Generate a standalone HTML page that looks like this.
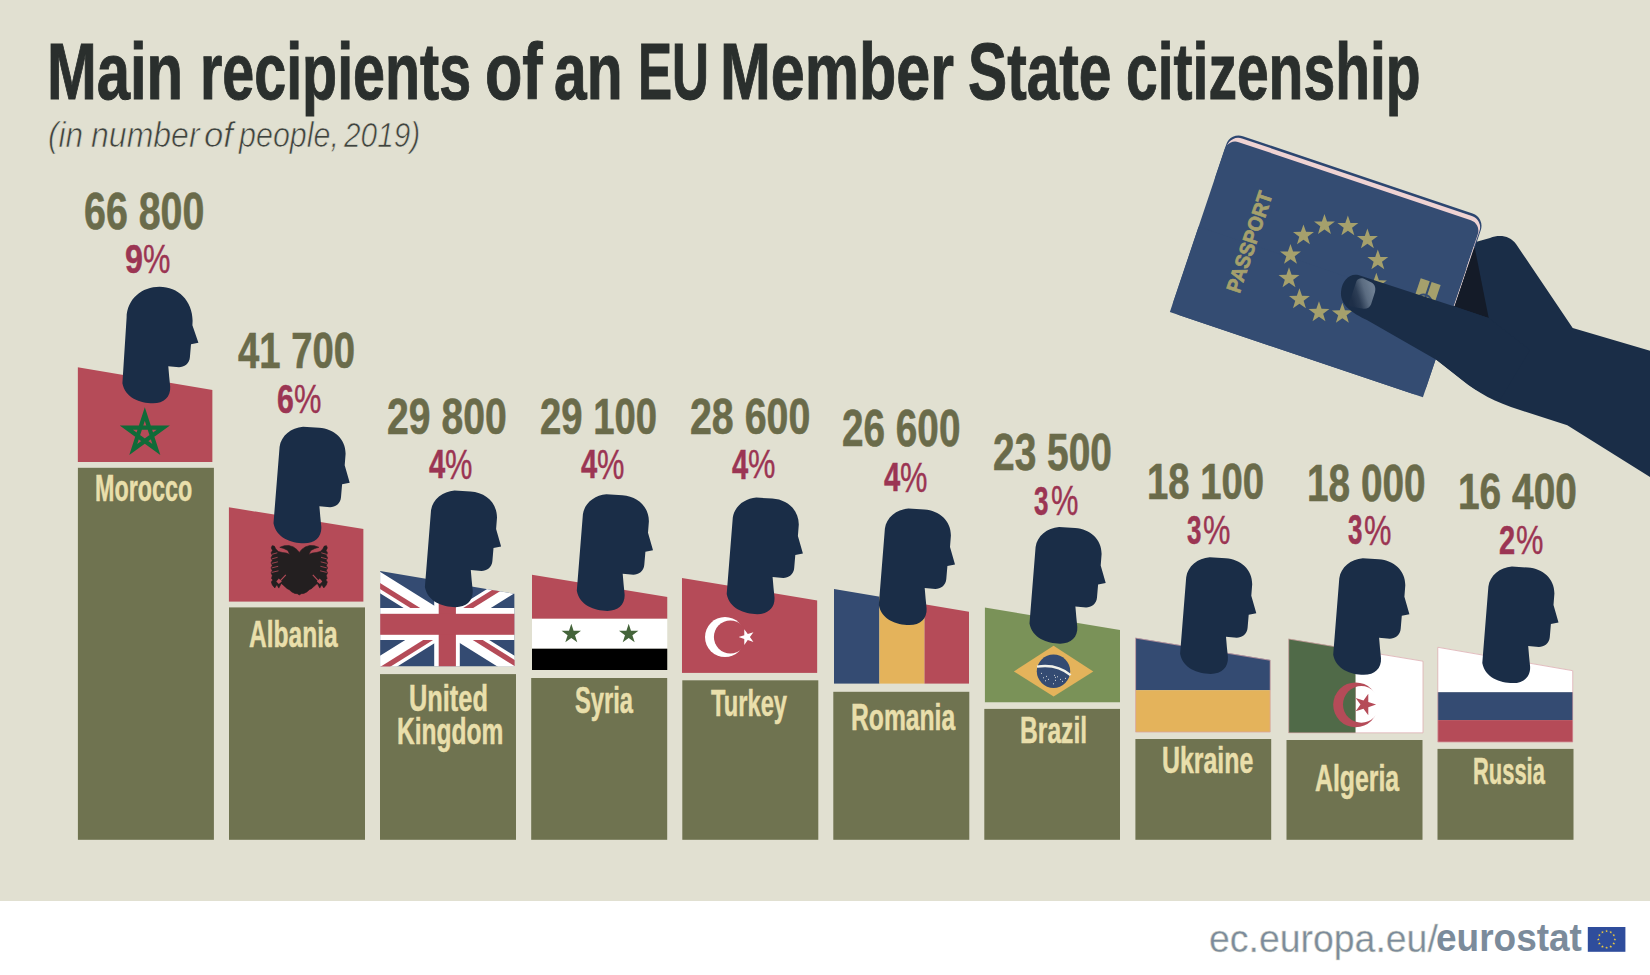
<!DOCTYPE html>
<html><head><meta charset="utf-8"><title>Main recipients of an EU Member State citizenship</title>
<style>
html,body{margin:0;padding:0;width:1650px;height:975px;overflow:hidden;background:#fff}
#root{position:relative;width:1650px;height:975px;overflow:hidden}
.t{position:absolute;white-space:pre;font-family:"Liberation Sans",sans-serif;transform-origin:0 0}
</style></head><body><div id="root">
<svg width="1650" height="975" viewBox="0 0 1650 975" style="position:absolute;left:0;top:0"><rect width="1650" height="901" fill="#e1e0d1"/><rect y="901" width="1650" height="74" fill="#fff"/><rect x="77.9" y="467.8" width="136.0" height="371.99999999999994" fill="#6f7350"/><clipPath id="fc0"><polygon points="77.6,367.2 212.6,390.0 212.6,462.0 77.6,462.0"/></clipPath><g clip-path="url(#fc0)"><rect x="77.6" y="366.2" width="135.0" height="95.80000000000001" fill="#b54b58"/><path d="M144.80 414.00 L156.32 449.46 L126.16 427.54 L163.44 427.54 L133.28 449.46 Z" fill="none" stroke="#0f6b38" stroke-width="4.2" stroke-linejoin="miter" stroke-miterlimit="10"/></g><path transform="translate(122.00 286.70)" d="M4.6 31 C5 12 20 0 37.6 0 C56 0 70.5 14 70.6 34 L70.4 38.5 L76.4 56 L69 57.5 L67.9 70.5 C67.5 77 62 80.5 57 80.5 L46.3 79.5 L47.2 90 L48.2 100 C48.8 110 42 116.6 31 116.6 C18 116.6 3 111 0.4 96.5 Z" fill="#1a2d47"/><rect x="229.0" y="607.4" width="136.0" height="232.39999999999998" fill="#6f7350"/><clipPath id="fc1"><polygon points="228.7,507.2 363.6,529.1 363.6,601.8 228.7,601.8"/></clipPath><g clip-path="url(#fc1)"><rect x="228.7" y="506.2" width="134.90000000000003" height="95.59999999999997" fill="#b54b58"/><path d="M299.30 552.40 L296.80 549.40 L293.30 546.90 L288.80 545.50 L284.30 545.70 L279.80 547.30 L283.80 548.50 L287.80 550.40 L289.80 554.40 L286.30 553.10 L282.30 552.50 L278.30 551.50 L275.80 548.90 L274.30 546.10 L272.10 545.70 L271.30 547.90 L272.50 550.40 L271.10 552.90 L272.30 555.40 L271.00 557.90 L272.30 560.40 L271.00 562.90 L272.30 565.40 L271.00 567.90 L272.30 570.40 L271.10 572.90 L272.30 575.40 L271.50 578.40 L272.80 579.90 L271.30 581.90 L272.30 584.90 L274.80 587.90 L276.80 584.70 L278.80 588.10 L281.30 583.40 L284.80 586.40 L286.80 588.40 L289.30 589.70 L291.80 591.90 L294.80 593.40 L297.30 593.70 L299.30 594.90 L299.30 594.90 L301.30 593.70 L303.80 593.40 L306.80 591.90 L309.30 589.70 L311.80 588.40 L313.80 586.40 L317.30 583.40 L319.80 588.10 L321.80 584.70 L323.80 587.90 L326.30 584.90 L327.30 581.90 L325.80 579.90 L327.10 578.40 L326.30 575.40 L327.50 572.90 L326.30 570.40 L327.60 567.90 L326.30 565.40 L327.60 562.90 L326.30 560.40 L327.60 557.90 L326.30 555.40 L327.50 552.90 L326.10 550.40 L327.30 547.90 L326.50 545.70 L324.30 546.10 L322.80 548.90 L320.30 551.50 L316.30 552.50 L312.30 553.10 L308.80 554.40 L310.80 550.40 L314.80 548.50 L318.80 547.30 L314.30 545.70 L309.80 545.50 L305.30 546.90 L301.80 549.40 L299.30 552.40 Z" fill="#231f20" stroke="#231f20" stroke-width="0.6" stroke-linejoin="round"/><path d="M271.80 554.40 L277.30 552.80" stroke="#b54b58" stroke-width="0.8"/><path d="M271.80 558.90 L277.60 557.30" stroke="#b54b58" stroke-width="0.8"/><path d="M271.80 563.40 L277.90 561.80" stroke="#b54b58" stroke-width="0.8"/><path d="M271.80 567.90 L278.20 566.30" stroke="#b54b58" stroke-width="0.8"/><path d="M271.80 572.40 L278.50 570.80" stroke="#b54b58" stroke-width="0.8"/><path d="M285.80 574.90 L278.80 582.40" stroke="#b54b58" stroke-width="1.1"/><polygon points="281.80,581.40 278.80,578.40 276.30,581.40 278.80,583.90" fill="#b54b58"/><path d="M326.80 554.40 L321.30 552.80" stroke="#b54b58" stroke-width="0.8"/><path d="M326.80 558.90 L321.00 557.30" stroke="#b54b58" stroke-width="0.8"/><path d="M326.80 563.40 L320.70 561.80" stroke="#b54b58" stroke-width="0.8"/><path d="M326.80 567.90 L320.40 566.30" stroke="#b54b58" stroke-width="0.8"/><path d="M326.80 572.40 L320.10 570.80" stroke="#b54b58" stroke-width="0.8"/><path d="M312.80 574.90 L319.80 582.40" stroke="#b54b58" stroke-width="1.1"/><polygon points="316.80,581.40 319.80,578.40 322.30,581.40 319.80,583.90" fill="#b54b58"/></g><path transform="translate(273.10 426.70)" d="M6.5 20 C8 9 18 1 30 0 L46 1 C61 2 72.4 12 72.5 27 L71.6 38.5 L76.6 56 L69 57.5 L67.9 70.5 C67.5 77 62 80.5 57 80.5 L46.3 79.5 L47.2 90 L48.2 100 C48.8 110 42 116.6 31 116.6 C18 116.6 3 111 0.4 96.5 Z" fill="#1a2d47"/><rect x="380.0" y="674.1" width="136.0" height="165.69999999999993" fill="#6f7350"/><clipPath id="fc2"><polygon points="380.1,571.1 514.6,593.8 514.6,666.5 380.1,666.5"/></clipPath><g clip-path="url(#fc2)"><rect x="380.1" y="570.1" width="134.5" height="96.39999999999998" fill="#344b72"/><path d="M339.75 557.3 L554.95 691.7 M339.75 691.7 L554.95 557.3" stroke="#fff" stroke-width="18.2"/><path d="M338.16 559.84 L445.76 627.04" stroke="#b54b58" stroke-width="5.2"/><path d="M448.94 621.96 L556.54 689.16" stroke="#b54b58" stroke-width="5.2"/><path d="M445.76 621.96 L553.36 554.76" stroke="#b54b58" stroke-width="5.2"/><path d="M341.34 694.24 L448.94 627.04" stroke="#b54b58" stroke-width="5.2"/><rect x="434.2" y="569.1" width="25.6" height="97.39999999999998" fill="#fff"/><rect x="380.1" y="608.0" width="134.5" height="32" fill="#fff"/><rect x="438.7" y="569.1" width="17.2" height="97.39999999999998" fill="#b54b58"/><rect x="380.1" y="613.8" width="134.5" height="21.0" fill="#b54b58"/></g><path transform="translate(424.50 490.60)" d="M6.5 20 C8 9 18 1 30 0 L46 1 C61 2 72.4 12 72.5 27 L71.6 38.5 L76.6 56 L69 57.5 L67.9 70.5 C67.5 77 62 80.5 57 80.5 L46.3 79.5 L47.2 90 L48.2 100 C48.8 110 42 116.6 31 116.6 C18 116.6 3 111 0.4 96.5 Z" fill="#1a2d47"/><rect x="531.2" y="678.0" width="136.0" height="161.79999999999995" fill="#6f7350"/><clipPath id="fc3"><polygon points="532.0,574.8 667.5,597.0 667.5,670.1 532.0,670.1"/></clipPath><g clip-path="url(#fc3)"><rect x="532.0" y="573.8" width="135.5" height="45.0" fill="#b54b58"/><rect x="532.0" y="618.8" width="135.5" height="29.9" fill="#fff"/><rect x="532.0" y="648.7" width="135.5" height="21.399999999999977" fill="#000"/><polygon points="571.30,623.80 573.59,630.85 581.00,630.85 575.01,635.20 577.30,642.25 571.30,637.90 565.30,642.25 567.59,635.20 561.60,630.85 569.01,630.85" fill="#44643a"/><polygon points="628.70,623.80 630.99,630.85 638.40,630.85 632.41,635.20 634.70,642.25 628.70,637.90 622.70,642.25 624.99,635.20 619.00,630.85 626.41,630.85" fill="#44643a"/></g><path transform="translate(576.40 494.30)" d="M6.5 20 C8 9 18 1 30 0 L46 1 C61 2 72.4 12 72.5 27 L71.6 38.5 L76.6 56 L69 57.5 L67.9 70.5 C67.5 77 62 80.5 57 80.5 L46.3 79.5 L47.2 90 L48.2 100 C48.8 110 42 116.6 31 116.6 C18 116.6 3 111 0.4 96.5 Z" fill="#1a2d47"/><rect x="682.3" y="680.3" width="136.0" height="159.5" fill="#6f7350"/><clipPath id="fc4"><polygon points="681.9,578.1 817.4,600.4 817.4,672.9 681.9,672.9"/></clipPath><g clip-path="url(#fc4)"><rect x="681.9" y="577.1" width="135.5" height="95.79999999999995" fill="#b54b58"/><circle cx="725" cy="637.1" r="20" fill="#fff"/><circle cx="730.4" cy="637.0" r="16.5" fill="#b54b58"/><polygon points="738.60,637.10 744.27,635.26 744.27,629.30 747.77,634.12 753.43,632.28 749.93,637.10 753.43,641.92 747.77,640.08 744.27,644.90 744.27,638.94" fill="#fff"/></g><path transform="translate(726.30 497.60)" d="M6.5 20 C8 9 18 1 30 0 L46 1 C61 2 72.4 12 72.5 27 L71.6 38.5 L76.6 56 L69 57.5 L67.9 70.5 C67.5 77 62 80.5 57 80.5 L46.3 79.5 L47.2 90 L48.2 100 C48.8 110 42 116.6 31 116.6 C18 116.6 3 111 0.4 96.5 Z" fill="#1a2d47"/><rect x="833.3" y="691.8" width="136.0" height="148.0" fill="#6f7350"/><clipPath id="fc5"><polygon points="834.0,589.0 969.0,611.8 969.0,683.8 834.0,683.8"/></clipPath><g clip-path="url(#fc5)"><rect x="834.0" y="588.0" width="45.4" height="95.79999999999995" fill="#344b72"/><rect x="879.4" y="588.0" width="45.1" height="95.79999999999995" fill="#e4b35b"/><rect x="924.5" y="588.0" width="44.5" height="95.79999999999995" fill="#b54b58"/></g><path transform="translate(878.40 508.50)" d="M6.5 20 C8 9 18 1 30 0 L46 1 C61 2 72.4 12 72.5 27 L71.6 38.5 L76.6 56 L69 57.5 L67.9 70.5 C67.5 77 62 80.5 57 80.5 L46.3 79.5 L47.2 90 L48.2 100 C48.8 110 42 116.6 31 116.6 C18 116.6 3 111 0.4 96.5 Z" fill="#1a2d47"/><rect x="984.3" y="708.9" width="135.70000000000005" height="130.89999999999998" fill="#6f7350"/><clipPath id="fc6"><polygon points="984.7,607.6 1120.0,630.0 1120.0,702.5 984.7,702.5"/></clipPath><g clip-path="url(#fc6)"><rect x="984.7" y="606.6" width="135.29999999999995" height="95.89999999999998" fill="#7a9258"/><polygon points="1013.9,671.4 1053.6,645.8 1093.3,671.4 1053.6,696.6" fill="#e4b35b"/><circle cx="1053.5" cy="671.2" r="16.7" fill="#344b72"/><path d="M1037.0 666.6 Q1057 663.5 1070.6 675.2" stroke="#f2f2ea" stroke-width="2.4" fill="none"/><circle cx="1041.5" cy="673.2" r="0.55" fill="#f2f2ea"/><circle cx="1046.5" cy="676.2" r="0.55" fill="#f2f2ea"/><circle cx="1043.5" cy="677.7" r="0.55" fill="#f2f2ea"/><circle cx="1048.5" cy="679.2" r="0.55" fill="#f2f2ea"/><circle cx="1054.5" cy="675.2" r="0.55" fill="#f2f2ea"/><circle cx="1055.5" cy="677.2" r="0.55" fill="#f2f2ea"/><circle cx="1057.5" cy="676.7" r="0.55" fill="#f2f2ea"/><circle cx="1055.5" cy="680.2" r="0.55" fill="#f2f2ea"/><circle cx="1060.5" cy="679.2" r="0.55" fill="#f2f2ea"/><circle cx="1062.5" cy="681.2" r="0.55" fill="#f2f2ea"/><circle cx="1065.5" cy="678.2" r="0.55" fill="#f2f2ea"/><circle cx="1053.5" cy="683.7" r="0.55" fill="#f2f2ea"/><circle cx="1045.5" cy="680.7" r="0.55" fill="#f2f2ea"/></g><path transform="translate(1029.10 527.10)" d="M6.5 20 C8 9 18 1 30 0 L46 1 C61 2 72.4 12 72.5 27 L71.6 38.5 L76.6 56 L69 57.5 L67.9 70.5 C67.5 77 62 80.5 57 80.5 L46.3 79.5 L47.2 90 L48.2 100 C48.8 110 42 116.6 31 116.6 C18 116.6 3 111 0.4 96.5 Z" fill="#1a2d47"/><rect x="1135.4" y="739.0" width="135.79999999999995" height="100.79999999999995" fill="#6f7350"/><clipPath id="fc7"><polygon points="1135.3,637.8 1270.5,660.0 1270.5,732.3 1135.3,732.3"/></clipPath><g clip-path="url(#fc7)"><rect x="1135.3" y="636.8" width="135.20000000000005" height="53.40000000000009" fill="#344b72"/><rect x="1135.3" y="690.2" width="135.20000000000005" height="42.09999999999991" fill="#e4b35b"/></g><polygon points="1135.6,638.0999999999999 1270.2,660.3 1270.2,732.0 1135.6,732.0" fill="none" stroke="#d9a3a8" stroke-width="0.7"/><path transform="translate(1179.70 557.30)" d="M6.5 20 C8 9 18 1 30 0 L46 1 C61 2 72.4 12 72.5 27 L71.6 38.5 L76.6 56 L69 57.5 L67.9 70.5 C67.5 77 62 80.5 57 80.5 L46.3 79.5 L47.2 90 L48.2 100 C48.8 110 42 116.6 31 116.6 C18 116.6 3 111 0.4 96.5 Z" fill="#1a2d47"/><rect x="1286.5" y="740.0" width="136.0" height="99.79999999999995" fill="#6f7350"/><clipPath id="fc8"><polygon points="1288.4,638.7 1423.3,660.9 1423.3,733.1 1288.4,733.1"/></clipPath><g clip-path="url(#fc8)"><rect x="1288.4" y="637.7" width="67.29999999999995" height="95.39999999999998" fill="#506a48"/><rect x="1355.7" y="637.7" width="67.59999999999991" height="95.39999999999998" fill="#fff"/><circle cx="1355.6" cy="704.8" r="22.4" fill="#b54b58"/><clipPath id="dzc"><rect x="1288.4" y="600" width="67.29999999999995" height="200"/></clipPath><circle cx="1361.3" cy="704.4" r="18.3" fill="#506a48" clip-path="url(#dzc)"/><clipPath id="dzc2"><rect x="1355.7" y="600" width="100" height="200"/></clipPath><circle cx="1361.3" cy="704.4" r="18.3" fill="#fff" clip-path="url(#dzc2)"/><polygon points="1376.10,704.60 1368.29,707.14 1368.29,715.35 1363.47,708.71 1355.66,711.24 1360.48,704.60 1355.66,697.96 1363.47,700.49 1368.29,693.85 1368.29,702.06" fill="#b54b58"/></g><polygon points="1288.7,639.0 1423.0,661.1999999999999 1423.0,732.8000000000001 1288.7,732.8000000000001" fill="none" stroke="#d9a3a8" stroke-width="0.7"/><path transform="translate(1332.80 558.20)" d="M6.5 20 C8 9 18 1 30 0 L46 1 C61 2 72.4 12 72.5 27 L71.6 38.5 L76.6 56 L69 57.5 L67.9 70.5 C67.5 77 62 80.5 57 80.5 L46.3 79.5 L47.2 90 L48.2 100 C48.8 110 42 116.6 31 116.6 C18 116.6 3 111 0.4 96.5 Z" fill="#1a2d47"/><rect x="1437.5" y="748.9" width="136.0" height="90.89999999999998" fill="#6f7350"/><clipPath id="fc9"><polygon points="1437.5,647.0 1573.0,670.4 1573.0,742.3 1437.5,742.3"/></clipPath><g clip-path="url(#fc9)"><rect x="1437.5" y="646.0" width="135.5" height="46.200000000000045" fill="#fff"/><rect x="1437.5" y="692.2" width="135.5" height="27.9" fill="#344b72"/><rect x="1437.5" y="720.1" width="135.5" height="22.199999999999932" fill="#b54b58"/></g><polygon points="1437.8,647.3 1572.7,670.6999999999999 1572.7,742.0 1437.8,742.0" fill="none" stroke="#d9a3a8" stroke-width="0.7"/><path transform="translate(1481.90 566.50)" d="M6.5 20 C8 9 18 1 30 0 L46 1 C61 2 72.4 12 72.5 27 L71.6 38.5 L76.6 56 L69 57.5 L67.9 70.5 C67.5 77 62 80.5 57 80.5 L46.3 79.5 L47.2 90 L48.2 100 C48.8 110 42 116.6 31 116.6 C18 116.6 3 111 0.4 96.5 Z" fill="#1a2d47"/><path d="M1440 252 L1490 238 C1500 234 1510 236 1516 244 L1572.7 328 L1650 350.7 L1650 477 L1567.3 425.3 L1520 410 C1495 402 1478 393 1462 380 L1436.7 360 L1400 330 Z" fill="#1a2d47"/><g transform="translate(1325.1 269.35) rotate(18.6)"><rect x="-133.5" y="-100" width="268.5" height="60" rx="13" fill="#2c4670"/><rect x="-132.5" y="-97.5" width="266.6" height="60" rx="12" fill="#efd3d3"/><rect x="-133.5" y="-93" width="267" height="183" rx="11" fill="#344c72"/><rect x="-133.5" y="0" width="267" height="90" fill="#344c72"/><text x="0" y="0" transform="translate(-80.9 -1.9) rotate(-90)" text-anchor="middle" dominant-baseline="central" font-family="Liberation Sans" font-weight="700" font-size="20.5" fill="#a5a06c" stroke="#a5a06c" stroke-width="0.8" textLength="105" lengthAdjust="spacingAndGlyphs">PASSPORT</text><g transform="translate(104 -12)"><rect x="-10.5" y="-10" width="9.5" height="24" fill="#a5a06c"/><rect x="1" y="-10" width="9.5" height="24" fill="#a5a06c"/><circle cx="0" cy="12" r="8" fill="none" stroke="#344c72" stroke-width="2"/></g></g><polygon points="1347.87,215.47 1350.45,222.91 1358.33,223.07 1352.05,227.83 1354.33,235.37 1347.87,230.87 1341.40,235.37 1343.68,227.83 1337.40,223.07 1345.28,222.91" fill="#a5a06c"/><polygon points="1367.40,228.45 1369.98,235.89 1377.86,236.05 1371.58,240.81 1373.86,248.35 1367.40,243.85 1360.93,248.35 1363.21,240.81 1356.94,236.05 1364.81,235.89" fill="#a5a06c"/><polygon points="1377.82,249.45 1380.41,256.89 1388.28,257.05 1382.01,261.81 1384.29,269.35 1377.82,264.85 1371.36,269.35 1373.64,261.81 1367.36,257.05 1375.24,256.89" fill="#a5a06c"/><polygon points="1376.35,272.85 1378.94,280.29 1386.81,280.46 1380.54,285.21 1382.82,292.75 1376.35,288.25 1369.88,292.75 1372.17,285.21 1365.89,280.46 1373.76,280.29" fill="#a5a06c"/><polygon points="1363.37,292.39 1365.96,299.83 1373.84,299.99 1367.56,304.75 1369.84,312.28 1363.37,307.79 1356.91,312.28 1359.19,304.75 1352.91,299.99 1360.79,299.83" fill="#a5a06c"/><polygon points="1342.37,302.81 1344.96,310.25 1352.83,310.41 1346.56,315.17 1348.84,322.71 1342.37,318.21 1335.90,322.71 1338.19,315.17 1331.91,310.41 1339.78,310.25" fill="#a5a06c"/><polygon points="1318.97,301.34 1321.55,308.78 1329.43,308.94 1323.15,313.70 1325.43,321.24 1318.97,316.74 1312.50,321.24 1314.78,313.70 1308.51,308.94 1316.38,308.78" fill="#a5a06c"/><polygon points="1299.44,288.36 1302.02,295.80 1309.90,295.96 1303.62,300.72 1305.90,308.26 1299.44,303.76 1292.97,308.26 1295.25,300.72 1288.98,295.96 1296.85,295.80" fill="#a5a06c"/><polygon points="1289.01,267.36 1291.60,274.80 1299.47,274.96 1293.20,279.72 1295.48,287.26 1289.01,282.76 1282.54,287.26 1284.83,279.72 1278.55,274.96 1286.42,274.80" fill="#a5a06c"/><polygon points="1290.48,243.96 1293.07,251.40 1300.94,251.56 1294.67,256.32 1296.95,263.86 1290.48,259.36 1284.02,263.86 1286.30,256.32 1280.02,251.56 1287.90,251.40" fill="#a5a06c"/><polygon points="1303.46,224.43 1306.05,231.87 1313.92,232.03 1307.64,236.79 1309.92,244.32 1303.46,239.83 1296.99,244.32 1299.27,236.79 1293.00,232.03 1300.87,231.87" fill="#a5a06c"/><polygon points="1324.46,214.00 1327.05,221.44 1334.92,221.60 1328.65,226.36 1330.93,233.90 1324.46,229.40 1318.00,233.90 1320.28,226.36 1314.00,221.60 1321.88,221.44" fill="#a5a06c"/><path d="M1474.2 247 L1454.2 306" stroke="#e8d6d6" stroke-width="1"/><polygon points="1474.5,246.5 1488.7,318.1 1454.5,306.5" fill="#141b28"/><path d="M1358.3 275.1 L1455.3 306.7 L1488.7 318.1 L1530 350 L1500 400 C1480 394 1470 386 1456 375 L1436.7 360 L1366.9 320 C1352 313 1340 305 1341 292 C1342 280 1350 273 1358.3 275.1 Z" fill="#1a2d47"/><linearGradient id="nailg" x1="1351" y1="297" x2="1373" y2="290" gradientUnits="userSpaceOnUse"><stop offset="0" stop-color="#1e2f48"/><stop offset="0.3" stop-color="#2c3d55"/><stop offset="0.65" stop-color="#5b6c81"/><stop offset="1" stop-color="#6d7e92"/></linearGradient><path d="M1348.5 305 L1356.5 281 C1358 278.5 1361 277.8 1364 278.8 L1371.5 282.5 C1375 284.5 1376 288 1375 292 L1371 304.5 C1369.5 308 1366 309.5 1362 308.5 L1351 306.5 Z" fill="url(#nailg)"/><rect x="1587.8" y="927" width="37.6" height="24.8" fill="#2f4d9c"/><polygon points="1606.60,929.60 1606.94,930.64 1608.03,930.64 1607.14,931.28 1607.48,932.31 1606.60,931.67 1605.72,932.31 1606.06,931.28 1605.17,930.64 1606.26,930.64" fill="#f5cf3a"/><polygon points="1610.75,930.71 1611.09,931.75 1612.18,931.75 1611.29,932.39 1611.63,933.43 1610.75,932.78 1609.87,933.43 1610.21,932.39 1609.32,931.75 1610.41,931.75" fill="#f5cf3a"/><polygon points="1613.79,933.75 1614.12,934.79 1615.21,934.79 1614.33,935.43 1614.67,936.46 1613.79,935.82 1612.91,936.46 1613.24,935.43 1612.36,934.79 1613.45,934.79" fill="#f5cf3a"/><polygon points="1614.90,937.90 1615.24,938.94 1616.33,938.94 1615.44,939.58 1615.78,940.61 1614.90,939.97 1614.02,940.61 1614.36,939.58 1613.47,938.94 1614.56,938.94" fill="#f5cf3a"/><polygon points="1613.79,942.05 1614.12,943.09 1615.21,943.09 1614.33,943.73 1614.67,944.76 1613.79,944.12 1612.91,944.76 1613.24,943.73 1612.36,943.09 1613.45,943.09" fill="#f5cf3a"/><polygon points="1610.75,945.09 1611.09,946.12 1612.18,946.12 1611.29,946.77 1611.63,947.80 1610.75,947.16 1609.87,947.80 1610.21,946.77 1609.32,946.12 1610.41,946.12" fill="#f5cf3a"/><polygon points="1606.60,946.20 1606.94,947.24 1608.03,947.24 1607.14,947.88 1607.48,948.91 1606.60,948.27 1605.72,948.91 1606.06,947.88 1605.17,947.24 1606.26,947.24" fill="#f5cf3a"/><polygon points="1602.45,945.09 1602.79,946.12 1603.88,946.12 1602.99,946.77 1603.33,947.80 1602.45,947.16 1601.57,947.80 1601.91,946.77 1601.02,946.12 1602.11,946.12" fill="#f5cf3a"/><polygon points="1599.41,942.05 1599.75,943.09 1600.84,943.09 1599.96,943.73 1600.29,944.76 1599.41,944.12 1598.53,944.76 1598.87,943.73 1597.99,943.09 1599.08,943.09" fill="#f5cf3a"/><polygon points="1598.30,937.90 1598.64,938.94 1599.73,938.94 1598.84,939.58 1599.18,940.61 1598.30,939.97 1597.42,940.61 1597.76,939.58 1596.87,938.94 1597.96,938.94" fill="#f5cf3a"/><polygon points="1599.41,933.75 1599.75,934.79 1600.84,934.79 1599.96,935.43 1600.29,936.46 1599.41,935.82 1598.53,936.46 1598.87,935.43 1597.99,934.79 1599.08,934.79" fill="#f5cf3a"/><polygon points="1602.45,930.71 1602.79,931.75 1603.88,931.75 1602.99,932.39 1603.33,933.43 1602.45,932.78 1601.57,933.43 1601.91,932.39 1601.02,931.75 1602.11,931.75" fill="#f5cf3a"/></svg>
<div class="t" style="left:47.19px;top:30.93px;font-size:80.43px;line-height:80.43px;font-weight:700;color:#2a2f2d;-webkit-text-stroke:1.0px #2a2f2d;transform:scaleX(0.7428)">Main</div><div class="t" style="left:199.64px;top:30.93px;font-size:80.43px;line-height:80.43px;font-weight:700;color:#2a2f2d;-webkit-text-stroke:1.0px #2a2f2d;transform:scaleX(0.7135)">recipients</div><div class="t" style="left:484.83px;top:30.93px;font-size:80.43px;line-height:80.43px;font-weight:700;color:#2a2f2d;-webkit-text-stroke:1.0px #2a2f2d;transform:scaleX(0.7602)">of</div><div class="t" style="left:554.10px;top:30.93px;font-size:80.43px;line-height:80.43px;font-weight:700;color:#2a2f2d;-webkit-text-stroke:1.0px #2a2f2d;transform:scaleX(0.7304)">an</div><div class="t" style="left:637.64px;top:30.93px;font-size:80.43px;line-height:80.43px;font-weight:700;color:#2a2f2d;-webkit-text-stroke:1.0px #2a2f2d;transform:scaleX(0.6360)">EU</div><div class="t" style="left:720.31px;top:30.93px;font-size:80.43px;line-height:80.43px;font-weight:700;color:#2a2f2d;-webkit-text-stroke:1.0px #2a2f2d;transform:scaleX(0.7587)">Member</div><div class="t" style="left:967.70px;top:30.93px;font-size:80.43px;line-height:80.43px;font-weight:700;color:#2a2f2d;-webkit-text-stroke:1.0px #2a2f2d;transform:scaleX(0.7296)">State</div><div class="t" style="left:1126.27px;top:30.93px;font-size:80.43px;line-height:80.43px;font-weight:700;color:#2a2f2d;-webkit-text-stroke:1.0px #2a2f2d;transform:scaleX(0.7090)">citizenship</div><div class="t" style="left:48.31px;top:117.78px;font-size:35.62px;line-height:35.62px;font-weight:400;font-style:italic;color:#3f4340;-webkit-text-stroke:0.7px #e1e0d1;transform:scaleX(0.8866)">(in</div><div class="t" style="left:90.64px;top:117.78px;font-size:35.62px;line-height:35.62px;font-weight:400;font-style:italic;color:#3f4340;-webkit-text-stroke:0.7px #e1e0d1;transform:scaleX(0.8995)">number</div><div class="t" style="left:204.21px;top:117.78px;font-size:35.62px;line-height:35.62px;font-weight:400;font-style:italic;color:#3f4340;-webkit-text-stroke:0.7px #e1e0d1;transform:scaleX(0.9770)">of</div><div class="t" style="left:239.21px;top:117.78px;font-size:35.62px;line-height:35.62px;font-weight:400;font-style:italic;color:#3f4340;-webkit-text-stroke:0.7px #e1e0d1;transform:scaleX(0.8555)">people,</div><div class="t" style="left:343.81px;top:117.78px;font-size:35.62px;line-height:35.62px;font-weight:400;font-style:italic;color:#3f4340;-webkit-text-stroke:0.7px #e1e0d1;transform:scaleX(0.8365)">2019)</div><div class="t" style="left:84.19px;top:186.45px;font-size:51.61px;line-height:51.61px;font-weight:700;color:#6a6b4a;-webkit-text-stroke:0.6px #6a6b4a;transform:scaleX(0.7625)">66 800</div><div class="t" style="left:237.50px;top:325.59px;font-size:50.68px;line-height:50.68px;font-weight:700;color:#6a6b4a;-webkit-text-stroke:0.6px #6a6b4a;transform:scaleX(0.7549)">41 700</div><div class="t" style="left:387.28px;top:391.59px;font-size:50.68px;line-height:50.68px;font-weight:700;color:#6a6b4a;-webkit-text-stroke:0.6px #6a6b4a;transform:scaleX(0.7725)">29 800</div><div class="t" style="left:540.30px;top:391.59px;font-size:50.68px;line-height:50.68px;font-weight:700;color:#6a6b4a;-webkit-text-stroke:0.6px #6a6b4a;transform:scaleX(0.7545)">29 100</div><div class="t" style="left:690.27px;top:391.59px;font-size:50.68px;line-height:50.68px;font-weight:700;color:#6a6b4a;-webkit-text-stroke:0.6px #6a6b4a;transform:scaleX(0.7759)">28 600</div><div class="t" style="left:842.28px;top:403.49px;font-size:51.34px;line-height:51.34px;font-weight:700;color:#6a6b4a;-webkit-text-stroke:0.6px #6a6b4a;transform:scaleX(0.7543)">26 600</div><div class="t" style="left:993.28px;top:427.49px;font-size:51.34px;line-height:51.34px;font-weight:700;color:#6a6b4a;-webkit-text-stroke:0.6px #6a6b4a;transform:scaleX(0.7578)">23 500</div><div class="t" style="left:1146.93px;top:456.59px;font-size:50.68px;line-height:50.68px;font-weight:700;color:#6a6b4a;-webkit-text-stroke:0.6px #6a6b4a;transform:scaleX(0.7555)">18 100</div><div class="t" style="left:1306.90px;top:457.49px;font-size:51.99px;line-height:51.99px;font-weight:700;color:#6a6b4a;-webkit-text-stroke:0.6px #6a6b4a;transform:scaleX(0.7461)">18 000</div><div class="t" style="left:1458.38px;top:466.59px;font-size:50.68px;line-height:50.68px;font-weight:700;color:#6a6b4a;-webkit-text-stroke:0.6px #6a6b4a;transform:scaleX(0.7670)">16 400</div><div class="t" style="left:124.81px;top:239.16px;font-size:40.59px;line-height:40.59px;font-weight:700;color:#9b3553;-webkit-text-stroke:0.5px #9b3553;transform:scaleX(0.7951)">9</div><div class="t" style="left:142.91px;top:238.59px;font-size:41.31px;line-height:41.31px;font-weight:400;color:#9b3553;-webkit-text-stroke:0.4px #9b3553;transform:scaleX(0.7470)">%</div><div class="t" style="left:276.68px;top:379.16px;font-size:40.59px;line-height:40.59px;font-weight:700;color:#9b3553;-webkit-text-stroke:0.5px #9b3553;transform:scaleX(0.7451)">6</div><div class="t" style="left:293.91px;top:378.59px;font-size:41.31px;line-height:41.31px;font-weight:400;color:#9b3553;-webkit-text-stroke:0.4px #9b3553;transform:scaleX(0.7470)">%</div><div class="t" style="left:428.59px;top:444.45px;font-size:41.09px;line-height:41.09px;font-weight:700;color:#9b3553;-webkit-text-stroke:0.5px #9b3553;transform:scaleX(0.7089)">4</div><div class="t" style="left:444.91px;top:444.31px;font-size:41.64px;line-height:41.64px;font-weight:400;color:#9b3553;-webkit-text-stroke:0.4px #9b3553;transform:scaleX(0.7412)">%</div><div class="t" style="left:580.59px;top:444.45px;font-size:41.09px;line-height:41.09px;font-weight:700;color:#9b3553;-webkit-text-stroke:0.5px #9b3553;transform:scaleX(0.7089)">4</div><div class="t" style="left:596.81px;top:444.31px;font-size:41.64px;line-height:41.64px;font-weight:400;color:#9b3553;-webkit-text-stroke:0.4px #9b3553;transform:scaleX(0.7412)">%</div><div class="t" style="left:731.59px;top:443.59px;font-size:41.65px;line-height:41.65px;font-weight:700;color:#9b3553;-webkit-text-stroke:0.5px #9b3553;transform:scaleX(0.6995)">4</div><div class="t" style="left:747.92px;top:443.61px;font-size:41.20px;line-height:41.20px;font-weight:400;color:#9b3553;-webkit-text-stroke:0.4px #9b3553;transform:scaleX(0.7490)">%</div><div class="t" style="left:883.59px;top:456.76px;font-size:41.09px;line-height:41.09px;font-weight:700;color:#9b3553;-webkit-text-stroke:0.5px #9b3553;transform:scaleX(0.7089)">4</div><div class="t" style="left:899.91px;top:456.62px;font-size:41.64px;line-height:41.64px;font-weight:400;color:#9b3553;-webkit-text-stroke:0.4px #9b3553;transform:scaleX(0.7412)">%</div><div class="t" style="left:1034.34px;top:480.82px;font-size:41.35px;line-height:41.35px;font-weight:700;color:#9b3553;-webkit-text-stroke:0.5px #9b3553;transform:scaleX(0.6277)">3</div><div class="t" style="left:1050.71px;top:479.54px;font-size:42.09px;line-height:42.09px;font-weight:400;color:#9b3553;-webkit-text-stroke:0.4px #9b3553;transform:scaleX(0.7335)">%</div><div class="t" style="left:1186.64px;top:510.16px;font-size:40.59px;line-height:40.59px;font-weight:700;color:#9b3553;-webkit-text-stroke:0.5px #9b3553;transform:scaleX(0.6392)">3</div><div class="t" style="left:1202.81px;top:509.59px;font-size:41.31px;line-height:41.31px;font-weight:400;color:#9b3553;-webkit-text-stroke:0.4px #9b3553;transform:scaleX(0.7470)">%</div><div class="t" style="left:1347.63px;top:509.37px;font-size:42.23px;line-height:42.23px;font-weight:700;color:#9b3553;-webkit-text-stroke:0.5px #9b3553;transform:scaleX(0.6150)">3</div><div class="t" style="left:1363.91px;top:510.33px;font-size:41.97px;line-height:41.97px;font-weight:400;color:#9b3553;-webkit-text-stroke:0.4px #9b3553;transform:scaleX(0.7354)">%</div><div class="t" style="left:1499.30px;top:520.07px;font-size:41.17px;line-height:41.17px;font-weight:700;color:#9b3553;-webkit-text-stroke:0.5px #9b3553;transform:scaleX(0.7058)">2</div><div class="t" style="left:1515.71px;top:519.59px;font-size:41.31px;line-height:41.31px;font-weight:400;color:#9b3553;-webkit-text-stroke:0.4px #9b3553;transform:scaleX(0.7470)">%</div><div class="t" style="left:95.31px;top:470.84px;font-size:36.96px;line-height:36.96px;font-weight:700;color:#e9dfab;-webkit-text-stroke:0.5px #e9dfab;transform:scaleX(0.6308)">Morocco</div><div class="t" style="left:249.23px;top:616.84px;font-size:36.96px;line-height:36.96px;font-weight:700;color:#e9dfab;-webkit-text-stroke:0.5px #e9dfab;transform:scaleX(0.6642)">Albania</div><div class="t" style="left:409.15px;top:680.64px;font-size:36.96px;line-height:36.96px;font-weight:700;color:#e9dfab;-webkit-text-stroke:0.5px #e9dfab;transform:scaleX(0.6864)">United</div><div class="t" style="left:396.97px;top:714.44px;font-size:36.96px;line-height:36.96px;font-weight:700;color:#e9dfab;-webkit-text-stroke:0.5px #e9dfab;transform:scaleX(0.6643)">Kingdom</div><div class="t" style="left:574.69px;top:682.64px;font-size:36.96px;line-height:36.96px;font-weight:700;color:#e9dfab;-webkit-text-stroke:0.5px #e9dfab;transform:scaleX(0.6424)">Syria</div><div class="t" style="left:711.40px;top:686.14px;font-size:36.96px;line-height:36.96px;font-weight:700;color:#e9dfab;-webkit-text-stroke:0.5px #e9dfab;transform:scaleX(0.6418)">Turkey</div><div class="t" style="left:851.48px;top:699.84px;font-size:36.96px;line-height:36.96px;font-weight:700;color:#e9dfab;-webkit-text-stroke:0.5px #e9dfab;transform:scaleX(0.6675)">Romania</div><div class="t" style="left:1020.48px;top:712.64px;font-size:36.96px;line-height:36.96px;font-weight:700;color:#e9dfab;-webkit-text-stroke:0.5px #e9dfab;transform:scaleX(0.6671)">Brazil</div><div class="t" style="left:1162.19px;top:742.64px;font-size:36.96px;line-height:36.96px;font-weight:700;color:#e9dfab;-webkit-text-stroke:0.5px #e9dfab;transform:scaleX(0.6735)">Ukraine</div><div class="t" style="left:1315.22px;top:760.64px;font-size:36.96px;line-height:36.96px;font-weight:700;color:#e9dfab;-webkit-text-stroke:0.5px #e9dfab;transform:scaleX(0.6716)">Algeria</div><div class="t" style="left:1472.63px;top:752.71px;font-size:37.10px;line-height:37.10px;font-weight:700;color:#e9dfab;-webkit-text-stroke:0.5px #e9dfab;transform:scaleX(0.5911)">Russia</div><div class="t" style="left:1209.26px;top:919.85px;font-size:38.11px;line-height:38.11px;font-weight:400;color:#7b8b9b;-webkit-text-stroke:0.5px #e1e0d1;transform:scaleX(0.9816)">ec.europa.eu/</div><div class="t" style="left:1436.42px;top:919.26px;font-size:38.87px;line-height:38.87px;font-weight:700;color:#7b8b9b;transform:scaleX(0.9517)">eurostat</div>
</div></body></html>
